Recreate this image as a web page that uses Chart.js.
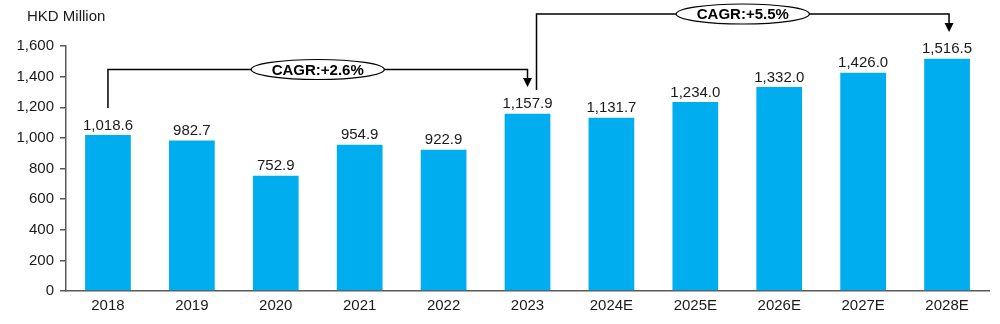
<!DOCTYPE html>
<html>
<head>
<meta charset="utf-8">
<script src="https://cdn.jsdelivr.net/npm/chart.js@4/dist/chart.umd.min.js"></script>
<style>
  html, body { margin: 0; padding: 0; background: #fff; }
  #wrap { width: 1000px; height: 324px; position: relative; }
</style>
</head>
<body>
<div id="wrap"><canvas id="c" width="1000" height="324"></canvas></div>
<script>
const categories = ['2018', '2019', '2020', '2021', '2022', '2023', '2024E', '2025E', '2026E', '2027E', '2028E'];
const revenue = [1018.6, 982.7, 752.9, 954.9, 922.9, 1157.9, 1131.7, 1234.0, 1332.0, 1426.0, 1516.5];
const yTicks = [0, 200, 400, 600, 800, 1000, 1200, 1400, 1600];
const unitLabel = 'HKD Million';
// Growth brackets: from category index to category index, with label
const cagrSpans = [
  { from: 0, to: 5, label: 'CAGR:+2.6%' },
  { from: 5, to: 10, label: 'CAGR:+5.5%' }
];

const FONT = '"Liberation Sans", Arial, sans-serif';
const TEXT = '#1a1a1a';
const fmt = v => v.toLocaleString('en-US', { minimumFractionDigits: 1, maximumFractionDigits: 1 });

const valueLabels = {
  id: 'valueLabels',
  afterDatasetsDraw(chart) {
    const ctx = chart.ctx;
    const meta = chart.getDatasetMeta(0);
    ctx.save();
    ctx.font = '15px ' + FONT;
    ctx.fillStyle = TEXT;
    ctx.textAlign = 'center';
    ctx.textBaseline = 'alphabetic';
    meta.data.forEach((bar, i) => {
      ctx.fillText(fmt(revenue[i]), bar.x, bar.y - 5.5);
    });
    ctx.restore();
  }
};

const unitTitle = {
  id: 'unitTitle',
  afterDraw(chart) {
    const ctx = chart.ctx;
    ctx.save();
    ctx.font = '15px ' + FONT;
    ctx.fillStyle = TEXT;
    ctx.textAlign = 'left';
    ctx.textBaseline = 'middle';
    ctx.fillText(unitLabel, 27, 17);
    ctx.restore();
  }
};

function drawBracket(ctx, x1, yStart, x2, yTop, yArrow, label, cx) {
  ctx.strokeStyle = '#000';
  ctx.fillStyle = '#000';
  ctx.lineWidth = 1.5;
  ctx.beginPath();
  ctx.moveTo(x1, yStart);
  ctx.lineTo(x1, yTop);
  ctx.lineTo(x2, yTop);
  ctx.lineTo(x2, yArrow - 8);
  ctx.stroke();
  ctx.beginPath();
  ctx.moveTo(x2 - 4.5, yArrow - 9);
  ctx.lineTo(x2 + 4.5, yArrow - 9);
  ctx.lineTo(x2, yArrow);
  ctx.closePath();
  ctx.fill();
  // label ellipse
  ctx.beginPath();
  ctx.ellipse(cx, yTop, 66.5, 10, 0, 0, Math.PI * 2);
  ctx.fillStyle = '#fff';
  ctx.fill();
  ctx.lineWidth = 1.2;
  ctx.stroke();
  ctx.fillStyle = '#000';
  ctx.font = 'bold 15px ' + FONT;
  ctx.textAlign = 'center';
  ctx.textBaseline = 'middle';
  ctx.fillText(label, cx, yTop + 1);
}

const cagrBrackets = {
  id: 'cagrBrackets',
  afterDraw(chart) {
    const ctx = chart.ctx;
    const xs = chart.scales.x;
    ctx.save();
    const s1 = cagrSpans[0], s2 = cagrSpans[1];
    const a1 = xs.getPixelForValue(s1.from), b1 = xs.getPixelForValue(s1.to);
    drawBracket(ctx, a1, 108, b1, 69.5, 87, s1.label, (a1 + b1) / 2);
    const a2 = xs.getPixelForValue(s2.from) + 9, b2 = xs.getPixelForValue(s2.to) + 2;
    drawBracket(ctx, a2, 90, b2, 14, 32, s2.label, (a2 + b2) / 2);
    ctx.restore();
  }
};

new Chart(document.getElementById('c'), {
  type: 'bar',
  data: {
    labels: categories,
    datasets: [{
      data: revenue,
      backgroundColor: '#00AEEF',
      borderWidth: 0,
      categoryPercentage: 1,
      barPercentage: 0.545
    }]
  },
  options: {
    responsive: false,
    animation: false,
    layout: { padding: { left: 0, right: 11, top: 46, bottom: 0 } },
    plugins: { legend: { display: false }, tooltip: { enabled: false } },
    scales: {
      x: {
        grid: { display: false, drawTicks: false },
        border: { display: true, color: '#595959', width: 1.5 },
        ticks: { color: TEXT, font: { family: FONT, size: 15 }, padding: 6, maxRotation: 0 },
        afterFit(s) { s.height = 33; }
      },
      y: {
        min: 0,
        max: 1600,
        afterBuildTicks(s) { s.ticks = yTicks.map(v => ({ value: v })); },
        grid: { drawOnChartArea: false, drawTicks: true, tickLength: 6, color: '#595959', lineWidth: 1.5 },
        border: { display: true, color: '#595959', width: 1.5 },
        ticks: {
          color: TEXT,
          font: { family: FONT, size: 15 },
          padding: 6,
          callback: v => v.toLocaleString('en-US')
        },
        afterFit(s) { s.width = 66; }
      }
    }
  },
  plugins: [valueLabels, unitTitle, cagrBrackets]
});
</script>
</body>
</html>
